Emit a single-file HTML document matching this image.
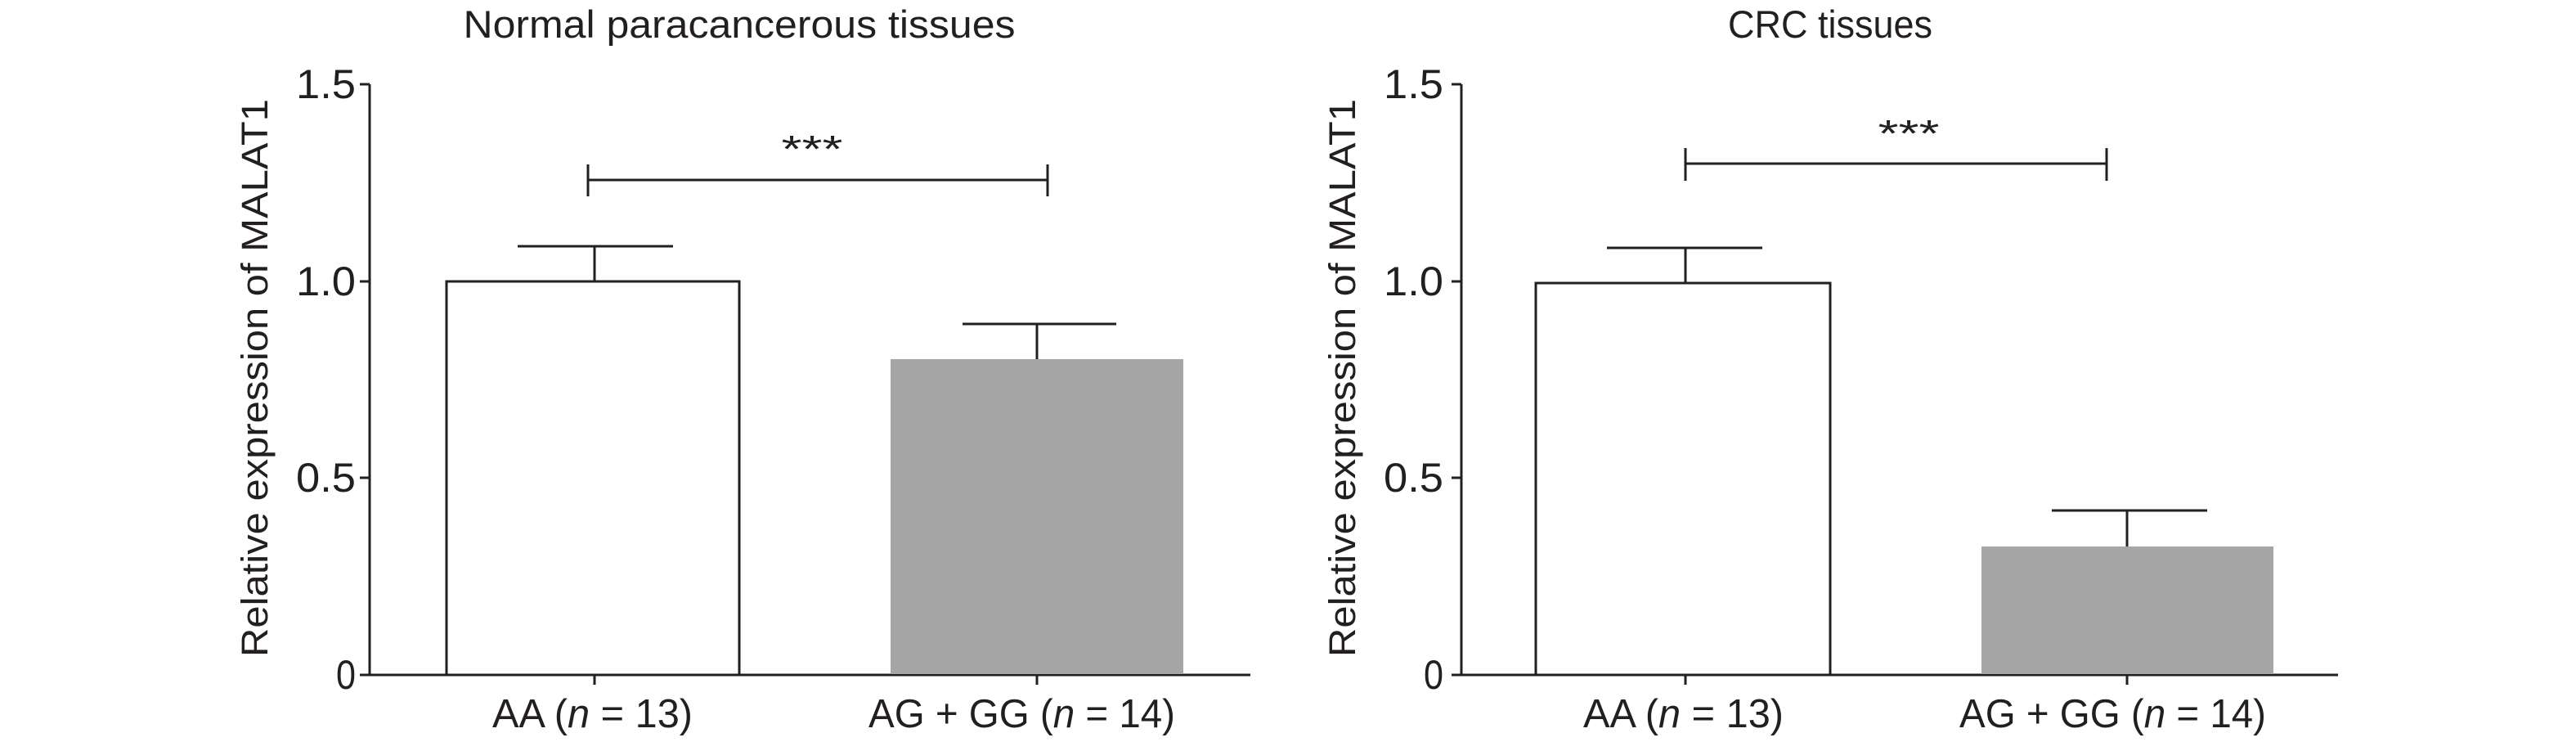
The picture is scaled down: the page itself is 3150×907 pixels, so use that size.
<!DOCTYPE html>
<html><head><meta charset="utf-8"><style>html,body{margin:0;padding:0;background:#fff}svg{display:block}</style></head>
<body>
<svg width="3150" height="907" viewBox="0 0 3150 907" xmlns="http://www.w3.org/2000/svg" font-family="Liberation Sans, sans-serif" fill="#231f20">
<g stroke="#231f20" stroke-width="3" fill="none">
  <line x1="452" y1="103" x2="452" y2="825"/>
  <line x1="452" y1="825" x2="1529" y2="825"/>
  <line x1="440" y1="103" x2="452" y2="103"/>
  <line x1="440" y1="344" x2="452" y2="344"/>
  <line x1="440" y1="584" x2="452" y2="584"/>
  <line x1="440" y1="825" x2="452" y2="825"/>
  <line x1="727" y1="825" x2="727" y2="837"/>
  <line x1="1268" y1="825" x2="1268" y2="837"/>
  <line x1="727" y1="344" x2="727" y2="301"/>
  <line x1="633" y1="301" x2="823" y2="301"/>
  <line x1="1268" y1="439" x2="1268" y2="396"/>
  <line x1="1177" y1="396" x2="1365" y2="396"/>
  <line x1="719" y1="220" x2="1281" y2="220"/>
  <line x1="719" y1="201" x2="719" y2="240"/>
  <line x1="1281" y1="201" x2="1281" y2="240"/>
  <line x1="1787" y1="103" x2="1787" y2="825"/>
  <line x1="1787" y1="825" x2="2859" y2="825"/>
  <line x1="1775" y1="103" x2="1787" y2="103"/>
  <line x1="1775" y1="344" x2="1787" y2="344"/>
  <line x1="1775" y1="584" x2="1787" y2="584"/>
  <line x1="1775" y1="825" x2="1787" y2="825"/>
  <line x1="2061" y1="825" x2="2061" y2="837"/>
  <line x1="2601" y1="825" x2="2601" y2="837"/>
  <line x1="2061" y1="346" x2="2061" y2="303"/>
  <line x1="1965" y1="303" x2="2155" y2="303"/>
  <line x1="2601" y1="668" x2="2601" y2="624"/>
  <line x1="2509" y1="624" x2="2699" y2="624"/>
  <line x1="2061" y1="200" x2="2576" y2="200"/>
  <line x1="2061" y1="181" x2="2061" y2="221"/>
  <line x1="2576" y1="181" x2="2576" y2="221"/>
</g>
<rect x="546" y="344" width="358" height="481" fill="#fff" stroke="#231f20" stroke-width="3"/>
<rect x="1089" y="439" width="358" height="385" fill="#a7a6a7"/>
<rect x="1878" y="346" width="360" height="479" fill="#fff" stroke="#231f20" stroke-width="3"/>
<rect x="2423" y="668" width="357" height="156" fill="#a7a6a7"/>
<text x="904" y="46" font-size="47" text-anchor="middle" textLength="675" lengthAdjust="spacingAndGlyphs">Normal paracancerous tissues</text>
<text x="2238" y="46" font-size="47" text-anchor="middle" textLength="250" lengthAdjust="spacingAndGlyphs">CRC tissues</text>
<g font-size="50" text-anchor="end">
  <text x="435" y="120" textLength="73" lengthAdjust="spacingAndGlyphs">1.5</text>
  <text x="435" y="361" textLength="73" lengthAdjust="spacingAndGlyphs">1.0</text>
  <text x="435" y="601" textLength="73" lengthAdjust="spacingAndGlyphs">0.5</text>
  <text x="435" y="842" textLength="24" lengthAdjust="spacingAndGlyphs">0</text>
  <text x="1765" y="120" textLength="73" lengthAdjust="spacingAndGlyphs">1.5</text>
  <text x="1765" y="361" textLength="73" lengthAdjust="spacingAndGlyphs">1.0</text>
  <text x="1765" y="601" textLength="73" lengthAdjust="spacingAndGlyphs">0.5</text>
  <text x="1765" y="842" textLength="24" lengthAdjust="spacingAndGlyphs">0</text>
</g>
<text transform="translate(327,462) rotate(-90)" font-size="45" text-anchor="middle" textLength="682" lengthAdjust="spacingAndGlyphs">Relative expression of MALAT1</text>
<text transform="translate(1657,462) rotate(-90)" font-size="45" text-anchor="middle" textLength="682" lengthAdjust="spacingAndGlyphs">Relative expression of MALAT1</text>
<text x="993" y="198" font-size="46" text-anchor="middle" textLength="75" lengthAdjust="spacingAndGlyphs">***</text>
<text x="2334" y="179" font-size="46" text-anchor="middle" textLength="75" lengthAdjust="spacingAndGlyphs">***</text>
<g font-size="49">
  <text x="602" y="889" textLength="245" lengthAdjust="spacingAndGlyphs">AA (<tspan font-style="italic">n</tspan> = 13)</text>
  <text x="1062" y="889" textLength="375" lengthAdjust="spacingAndGlyphs">AG + GG (<tspan font-style="italic">n</tspan> = 14)</text>
  <text x="1936" y="889" textLength="245" lengthAdjust="spacingAndGlyphs">AA (<tspan font-style="italic">n</tspan> = 13)</text>
  <text x="2396" y="889" textLength="375" lengthAdjust="spacingAndGlyphs">AG + GG (<tspan font-style="italic">n</tspan> = 14)</text>
</g>
</svg>
</body></html>
